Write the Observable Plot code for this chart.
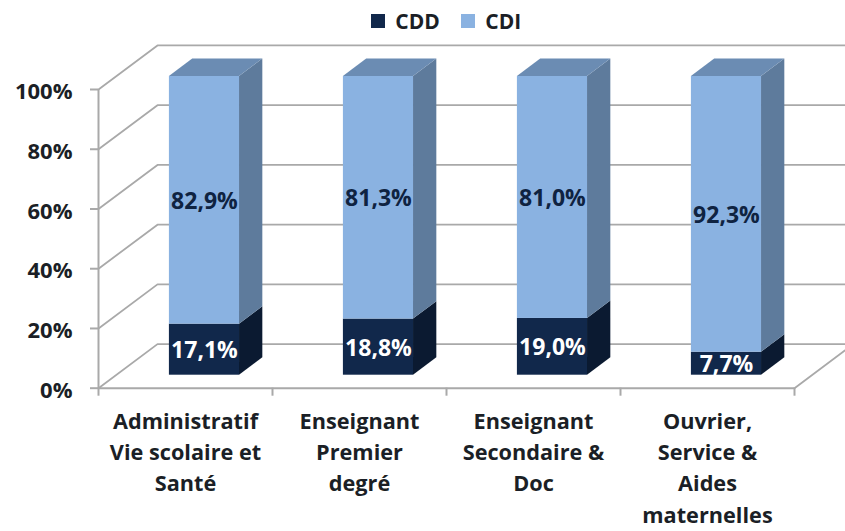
<!DOCTYPE html>
<html>
<head>
<meta charset="utf-8">
<script src="https://cdn.jsdelivr.net/npm/d3@7"></script>
<script src="https://cdn.jsdelivr.net/npm/@observablehq/plot@0.6"></script>
<style>
html,body{margin:0;padding:0;background:#fff;overflow:hidden;}
#legend{height:40px;display:flex;justify-content:center;overflow:hidden;padding-left:68px;box-sizing:border-box;padding-top:4px;}
#chart svg{display:block;}
</style>
</head>
<body>
<div id="legend"></div>
<div id="chart"></div>
<script>
const categories = ["Administratif\nVie scolaire et\nSanté", "Enseignant\nPremier\ndegré", "Enseignant\nSecondaire &\nDoc", "Ouvrier,\nService &\nAides\nmaternelles"];
const seriesNames = ["CDD", "CDI"];
const cdd = [17.1, 18.8, 19.0, 7.7];
const cdi = [82.9, 81.3, 81.0, 92.3];
const yTicks = [0, 20, 40, 60, 80, 100];

const font = "'Open Sans', sans-serif";
const ink = "#1b1f26";
const gridColor = "#a9a9a9";
const cddFront = "#11284b", cddSide = "#0b1a31", cddTop = "#0e2240";
const cdiFront = "#8ab2e1", cdiSide = "#5e7b9c", cdiTop = "#6b8cb3";

// Oblique projection: depth 0 is the front plane, depth 1 the back wall.
const depthX = 0.339, depthY = 14.75;
const barWidth = 0.403, barShift = 0.009, barD0 = 0.295, barD1 = 0.69;
const px = (x, d) => x + d * depthX;
const py = (v, d) => v + d * depthY;

const bars = categories.flatMap((c, i) => {
  const x0 = i + (1 - barWidth) / 2 + barShift;
  return [
    {i, series: "CDD", x0, x1: x0 + barWidth, v0: 0, v1: cdd[i], value: cdd[i], front: cddFront, side: cddSide, top: cddTop, text: "#fff"},
    {i, series: "CDI", x0, x1: x0 + barWidth, v0: cdd[i], v1: 100, value: cdi[i], front: cdiFront, side: cdiSide, top: cdiTop, text: "#0f2341"}
  ];
});
const sideFaces = bars.flatMap((b, k) => [barD0, barD1].map(d => ({k, x: px(b.x1, d), y1: py(b.v0, d), y2: py(b.v1, d), fill: b.side})));
const topFaces = bars.filter(b => b.series === "CDI").flatMap((b, k) => [barD0, barD1].map(d => ({k, y: py(100, d), x1: px(b.x0, d), x2: px(b.x1, d), fill: b.top})));

const wallLines = yTicks.flatMap(v => [
  {v, x: 0, y: v}, {v, x: depthX, y: py(v, 1)}, {v, x: 4 + depthX, y: py(v, 1)}
]);

const plot = Plot.plot({
  width: 845,
  height: 491,
  marginLeft: 98,
  marginRight: 51,
  marginTop: 49,
  marginBottom: 143.3,
  x: {type: "linear", domain: [0, 4], axis: null},
  y: {domain: [0, 100], axis: null},
  style: {fontFamily: font, fontWeight: 700, background: "#fff"},
  marks: [
    Plot.line(wallLines, {x: "x", y: "y", z: "v", stroke: gridColor, strokeWidth: 1.8}),
    Plot.line([{x: 4, y: 0}, {x: 4 + depthX, y: depthY}], {x: "x", y: "y", stroke: gridColor, strokeWidth: 1.8}),
    Plot.ruleY([0], {x1: 0, x2: 4, stroke: gridColor, strokeWidth: 2}),
    Plot.ruleX([0], {y1: 0, y2: 100, stroke: gridColor, strokeWidth: 2}),
    Plot.axisX({ticks: [0, 1, 2, 3, 4], tickSize: 8, tickFormat: () => "", stroke: gridColor, strokeWidth: 2, label: null}),
    Plot.axisY({ticks: yTicks, tickSize: 8, tickFormat: () => "", stroke: gridColor, strokeWidth: 2, label: null}),
    Plot.axisY({ticks: yTicks, tickSize: 0, tickPadding: 26, tickFormat: d => d + "%", fill: ink, fontSize: 22, dy: 2.5, label: null}),
    Plot.areaY(sideFaces, {x: "x", y1: "y1", y2: "y2", z: "k", fill: "fill"}),
    Plot.areaX(topFaces, {y: "y", x1: "x1", x2: "x2", z: "k", fill: "fill"}),
    Plot.rect(bars, {x1: b => px(b.x0, barD0), x2: b => px(b.x1, barD0), y1: b => py(b.v0, barD0), y2: b => py(b.v1, barD0), fill: "front"}),
    Plot.text(bars, {x: b => px((b.x0 + b.x1) / 2, barD0), y: b => py((b.v0 + b.v1) / 2, barD0), text: b => b.value.toFixed(1).replace(".", ",") + "%", fill: "text", fontSize: 23, dy: 1}),
    Plot.text(categories, {x: (c, i) => i + 0.5, y: 0, text: d => d, lineAnchor: "top", dy: 18, lineHeight: 1.45, fontSize: 21.7, fill: ink})
  ]
});
document.getElementById("chart").appendChild(plot);

const legend = Plot.legend({
  color: {type: "ordinal", domain: seriesNames, range: [cddFront, cdiFront]},
  swatchSize: 14,
  style: {fontFamily: font, fontWeight: 700, fontSize: "21px", color: ink}
});
document.getElementById("legend").appendChild(legend);
</script>
</body>
</html>
